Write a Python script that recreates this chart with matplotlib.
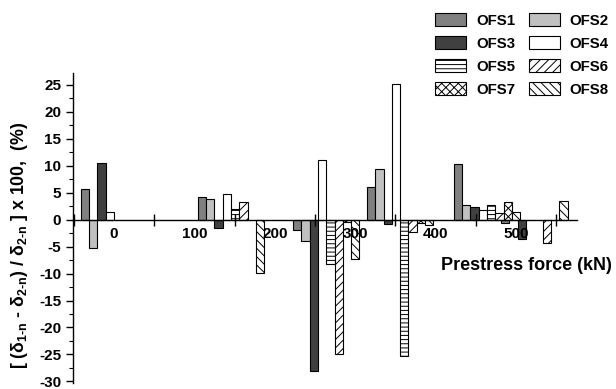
import numpy as np
import matplotlib
matplotlib.use("Agg")
import matplotlib.pyplot as plt

plt.rcParams['font.family'] = ['Liberation Sans', 'DejaVu Sans']
plt.rcParams['font.weight'] = 'bold'
plt.rcParams['axes.unicode_minus'] = False
plt.rcParams['mathtext.fontset'] = 'custom'
plt.rcParams['mathtext.rm'] = 'Liberation Sans:bold'
plt.rcParams['mathtext.it'] = 'Liberation Sans:bold'
plt.rcParams['mathtext.bf'] = 'Liberation Sans:bold'
plt.rcParams['hatch.linewidth'] = 0.7

# prestress force of each load step (kN)
force = [0, 145.5, 264, 356, 464, 523]

names = ['OFS1', 'OFS2', 'OFS3', 'OFS4', 'OFS5', 'OFS6', 'OFS7', 'OFS8']
nan = np.nan
ofs1 = [5.7, 4.2, -1.85, 6.0, 10.3, -0.6]
ofs2 = [-5.2, 3.8, -3.9, 9.4, 2.7, nan]
ofs3 = [10.5, -1.6, -28.0, -0.8, 2.3, -3.5]
ofs4 = [1.4, 4.8, 11.0, 25.1, 1.7, nan]
ofs5 = [nan, 2.0, -8.2, -25.3, 2.8, nan]
ofs6 = [nan, 3.3, -25.0, -2.2, 1.2, -4.4]
ofs7 = [nan, nan, -0.5, -0.7, 3.3, nan]
ofs8 = [nan, -9.9, -7.3, -1.0, 1.5, 3.5]
series = [ofs1, ofs2, ofs3, ofs4, ofs5, ofs6, ofs7, ofs8]

colors = ['#808080', '#c0c0c0', '#404040', 'white', 'white', 'white', 'white', 'white']
hatches = [None, None, None, None, '----', '////', 'xxxx', '\\\\\\\\']

fig = plt.figure(figsize=(6.16, 3.89), dpi=100)
ax = fig.add_axes([73/616, 1-383/389, (577-73)/616, (383-73)/389])

w = 10.35
x = np.array(force, dtype=float)
handles = []
for i, vals in enumerate(series):
    b = ax.bar(x + (i - 3.5) * w, vals, width=w, color=colors[i],
               edgecolor='black', linewidth=0.8, hatch=hatches[i],
               label=names[i])
    handles.append(b)

ax.set_xlim(-51, 576)
ax.set_ylim(-30.3, 27.2)

ax.spines['top'].set_visible(False)
ax.spines['right'].set_visible(False)
ax.spines['bottom'].set_position(('data', 0))
ax.spines['bottom'].set_linewidth(1.0)
ax.spines['left'].set_linewidth(1.0)

# group boundaries as ticks, force values as labels between them
ax.set_xticks(np.arange(-50, 551, 100))
ax.set_xticklabels([])
ax.tick_params(axis='x', which='major', direction='inout', length=8, width=1)
ax.set_xticks(np.arange(0, 501, 100), minor=True)
ax.set_xticklabels([str(v) for v in range(0, 501, 100)], minor=True,
                   fontsize=11, fontweight='bold')
ax.tick_params(axis='x', which='minor', length=0, pad=5.5)

ax.set_yticks(np.arange(-30, 26, 5))
ax.set_yticks(np.arange(-27.5, 26, 5), minor=True)
ax.tick_params(axis='y', which='major', direction='out', length=5, width=1,
               labelsize=11, pad=3.5)
ax.tick_params(axis='y', which='minor', direction='out', length=3, width=0.8)
for t in ax.get_yticklabels():
    t.set_fontweight('bold')

fig.text(20/616, 1-245/389,
         r'[ (δ$_{1\text{-}n}$ - δ$_{2\text{-}n}$) / δ$_{2\text{-}n}$ ] x 100,  (%)',
         rotation=90, ha='center', va='center', fontsize=12.8, fontweight='bold')

fig.text(612/616, 1-265/389, 'Prestress force (kN)', ha='right', va='center',
         fontsize=13, fontweight='bold')

# row-wise legend: OFS1 OFS2 / OFS3 OFS4 / ...
order = [0, 2, 4, 6, 1, 3, 5, 7]
fig.legend([handles[i] for i in order], [names[i] for i in order],
           loc='upper right', bbox_to_anchor=(609/616, 1-13/389), ncol=2,
           frameon=False, handlelength=2.1, handleheight=0.95,
           handletextpad=0.65, columnspacing=0.9, labelspacing=0.56,
           borderpad=0, borderaxespad=0,
           prop={'weight': 'bold', 'size': 10.8})

fig.savefig('out.png', dpi=100)
